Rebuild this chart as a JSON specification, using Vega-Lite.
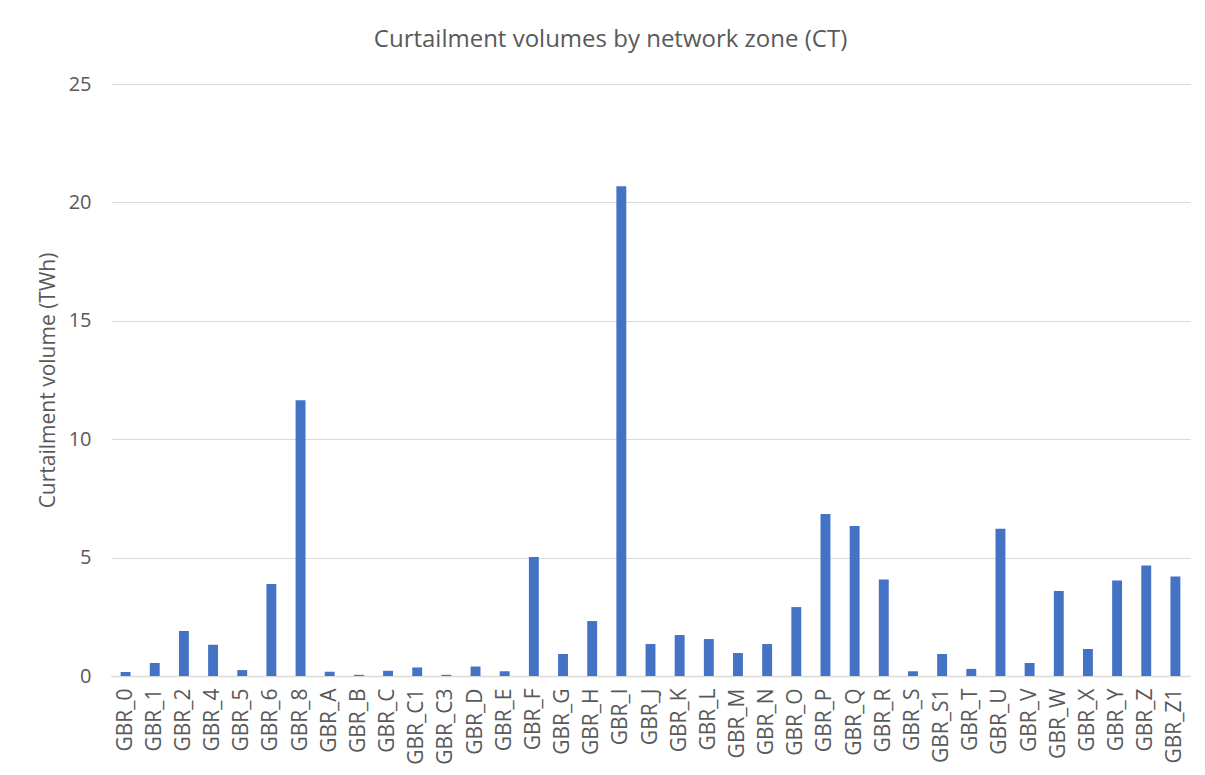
{
  "$schema": "https://vega.github.io/schema/vega-lite/v6.json",
  "width": 1079,
  "height": 592,
  "autosize": "none",
  "padding": {"left": 111, "top": 84, "right": 15, "bottom": 99},
  "background": "white",
  "title": {
    "text": "Curtailment volumes by network zone (CT)",
    "font": "Open Sans",
    "fontSize": 24,
    "fontWeight": "normal",
    "color": "#595959",
    "anchor": "middle",
    "dx": -40,
    "offset": 22
  },
  "config": {
    "view": {"stroke": null},
    "font": "Open Sans"
  },
  "data": {
    "values": [
      {"zone": "GBR_0", "volume": 0.17},
      {"zone": "GBR_1", "volume": 0.55},
      {"zone": "GBR_2", "volume": 1.9},
      {"zone": "GBR_4", "volume": 1.32},
      {"zone": "GBR_5", "volume": 0.25},
      {"zone": "GBR_6", "volume": 3.88},
      {"zone": "GBR_8", "volume": 11.65},
      {"zone": "GBR_A", "volume": 0.18},
      {"zone": "GBR_B", "volume": 0.05},
      {"zone": "GBR_C", "volume": 0.22},
      {"zone": "GBR_C1", "volume": 0.36},
      {"zone": "GBR_C3", "volume": 0.05},
      {"zone": "GBR_D", "volume": 0.4},
      {"zone": "GBR_E", "volume": 0.2},
      {"zone": "GBR_F", "volume": 5.03},
      {"zone": "GBR_G", "volume": 0.93},
      {"zone": "GBR_H", "volume": 2.32},
      {"zone": "GBR_I", "volume": 20.68},
      {"zone": "GBR_J", "volume": 1.35},
      {"zone": "GBR_K", "volume": 1.73},
      {"zone": "GBR_L", "volume": 1.56},
      {"zone": "GBR_M", "volume": 0.97},
      {"zone": "GBR_N", "volume": 1.35},
      {"zone": "GBR_O", "volume": 2.91},
      {"zone": "GBR_P", "volume": 6.84},
      {"zone": "GBR_Q", "volume": 6.33},
      {"zone": "GBR_R", "volume": 4.08},
      {"zone": "GBR_S", "volume": 0.2},
      {"zone": "GBR_S1", "volume": 0.93},
      {"zone": "GBR_T", "volume": 0.3},
      {"zone": "GBR_U", "volume": 6.22},
      {"zone": "GBR_V", "volume": 0.55},
      {"zone": "GBR_W", "volume": 3.59},
      {"zone": "GBR_X", "volume": 1.14},
      {"zone": "GBR_Y", "volume": 4.03},
      {"zone": "GBR_Z", "volume": 4.67},
      {"zone": "GBR_Z1", "volume": 4.2}
    ]
  },
  "mark": {"type": "bar", "color": "#4472C4"},
  "encoding": {
    "x": {
      "field": "zone",
      "type": "nominal",
      "sort": null,
      "scale": {"paddingInner": 0.66, "paddingOuter": 0.33},
      "axis": {
        "title": null,
        "labelAngle": -90,
        "labelFont": "Open Sans",
        "labelFontSize": 21,
        "labelColor": "#595959",
        "labelPadding": 12,
        "ticks": false,
        "domainColor": "#d9d9d9",
        "domainWidth": 1.5,
        "labelOverlap": false
      }
    },
    "y": {
      "field": "volume",
      "type": "quantitative",
      "scale": {"domain": [0, 25]},
      "axis": {
        "title": "Curtailment volume (TWh)",
        "titleFont": "Open Sans",
        "titleFontSize": 21,
        "titleFontWeight": "normal",
        "titleColor": "#595959",
        "titlePadding": 10,
        "values": [0, 5, 10, 15, 20, 25],
        "labelFont": "Open Sans",
        "labelFontSize": 20,
        "labelColor": "#595959",
        "labelPadding": 20,
        "ticks": false,
        "domain": false,
        "gridColor": "#d9d9d9",
        "gridWidth": 1
      }
    }
  }
}
